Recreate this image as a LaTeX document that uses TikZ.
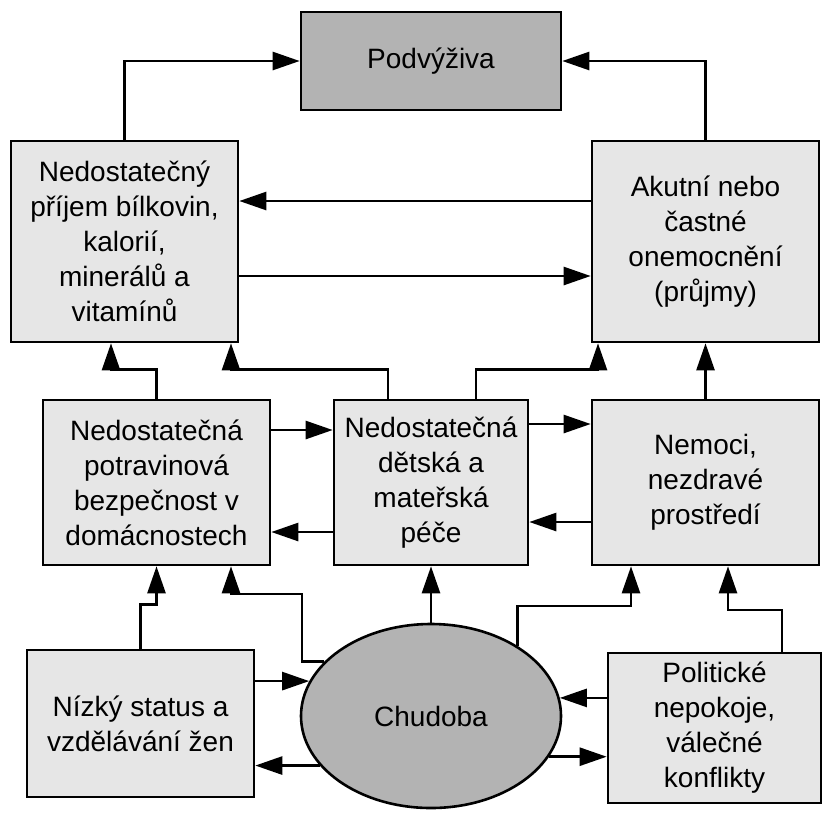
\documentclass[tikz,border=0pt]{standalone}
\usepackage{fontspec}
\setmainfont{Liberation Sans}
\usetikzlibrary{arrows.meta,shapes.geometric}
\definecolor{boxgray}{HTML}{E6E6E6}
\definecolor{keygray}{HTML}{B3B3B3}

\begin{document}
\begin{tikzpicture}[x=0.5pt, y=-0.5pt,
	box/.style={draw=black, line width=1.3pt, fill=boxgray, align=center, inner sep=2pt, font=\fontsize{14}{17.5}\selectfont},
	keybox/.style={box, fill=keygray},
	arr/.style={line width=1.3pt, -{Triangle[length=13.5pt, width=9pt]}}]
			%%%%% START %%%%%
			\useasboundingbox (0,0) rectangle (824,816);
			
			\node[keybox, minimum width=130pt, minimum height=49pt] (podv) at (431, 61) {Podvýživa};
			
			\node[box, minimum width=113.5pt, minimum height=100.5pt] (intake) at (124.5, 241.5) {Nedostatečný\\příjem bílkovin,\\kalorií,\\minerálů a\\vitamínů};
			\node[box, minimum width=113.5pt, minimum height=100.5pt] (acute) at (705.5, 241.5) {Akutní nebo\\častné\\onemocnění\\(průjmy)};
			
			\node[box, minimum width=113.5pt, minimum height=82.5pt] (food) at (156.5, 482.5) {Nedostatečná\\potravinová\\bezpečnost v\\domácnostech};
			\node[box, minimum width=97pt, minimum height=82.5pt] (care) at (431, 482.5) {Nedostatečná\\dětská a\\mateřská\\péče};
			\node[box, minimum width=113.5pt, minimum height=82.5pt] (disease) at (705.5, 482.5) {Nemoci,\\nezdravé\\prostředí};
			
			\node[box, minimum width=113.5pt, minimum height=73.5pt] (women) at (140.5, 723.5) {Nízký status a\\vzdělávání žen};
			\node[keybox, ellipse, inner sep=0pt, minimum width=130pt, minimum height=92pt] (poverty) at (431, 716) {Chudoba};
			\node[box, minimum width=106.5pt, minimum height=75pt] (politics) at (714.5, 728) {Politické\\nepokoje,\\válečné\\konflikty};
			
			% top
			\draw[arr] (intake.north) |- (podv.west);
			\draw[arr] (acute.north) |- (podv.east);
			\draw[arr] (acute.west |- 0,201) -- (intake.east |- 0,201);
			\draw[arr] (intake.east |- 0,276) -- (acute.west |- 0,276);
			
			% middle row up
			\draw[arr] (food.north) -- ++(0,-29) -| (111,0 |- intake.south);
			\draw[arr] (388,0 |- care.north) -- ++(0,-29) -| (231,0 |- intake.south);
			\draw[arr] (476,0 |- care.north) -- ++(0,-29) -| (598,0 |- acute.south);
			\draw[arr] (disease.north) -- (acute.south);
			
			% middle row across
			\draw[arr] (food.east |- 0,430) -- (care.west |- 0,430);
			\draw[arr] (care.west |- 0,532) -- (food.east |- 0,532);
			\draw[arr] (care.east |- 0,424) -- (disease.west |- 0,424);
			\draw[arr] (disease.west |- 0,522) -- (care.east |- 0,522);
			
			% bottom row up
			\draw[arr] (women.north) -- ++(0,-44) -| (food.south);
			\draw[arr] (poverty.153) -| (302,594) -| (231,0 |- food.south);
			\draw[arr] (poverty.north) -- (care.south);
			\draw[arr] (poverty.39) |- (631,606) -- (631,0 |- disease.south);
			\draw[arr] (782,0 |- politics.north) |- (728,610) -- (728,0 |- disease.south);
			
			% bottom row across
			\draw[arr] (women.east |- poverty.164) -- (poverty.164);
			\draw[arr] (poverty.204) -- (women.east |- poverty.204);
			\draw[arr] (politics.west |- poverty.8) -- (poverty.8);
			\draw[arr] (poverty.341) -- (politics.west |- poverty.341);
			
			%%%%% END %%%%%
		\end{tikzpicture}
\end{document}
